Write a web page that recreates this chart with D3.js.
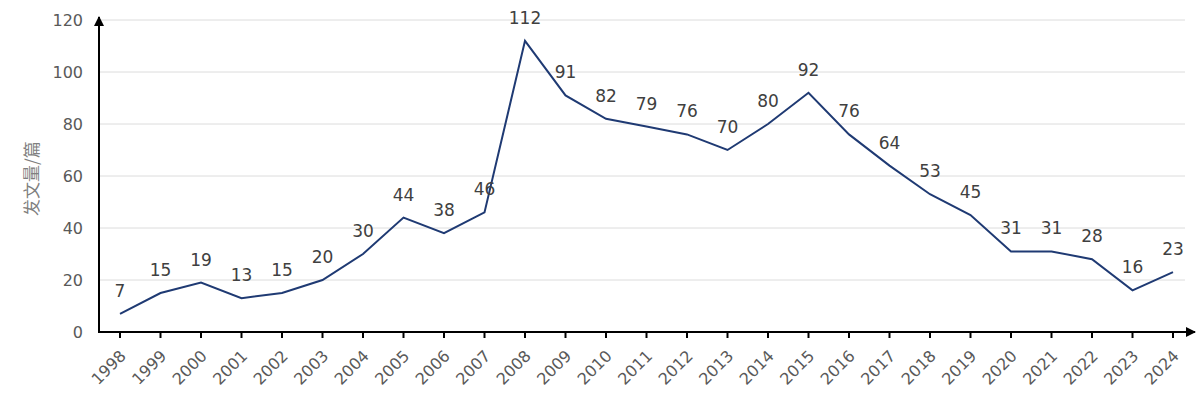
<!DOCTYPE html>
<html>
<head>
<meta charset="utf-8">
<script src="https://cdn.jsdelivr.net/npm/d3@7"></script>
<style>
  body { margin: 0; background: #fff; }
  svg { display: block; font-family: "DejaVu Sans", Verdana, sans-serif; }
</style>
</head>
<body>
<div class="chart"></div>
<script>
const years = ['1998', '1999', '2000', '2001', '2002', '2003', '2004', '2005', '2006', '2007', '2008',
  '2009', '2010', '2011', '2012', '2013', '2014', '2015', '2016', '2017', '2018', '2019', '2020',
  '2021', '2022', '2023', '2024'];
const counts = [7, 15, 19, 13, 15, 20, 30, 44, 38, 46, 112, 91, 82, 79, 76, 70, 80, 92, 76, 64, 53,
  45, 31, 31, 28, 16, 23];
const yTicks = [0, 20, 40, 60, 80, 100, 120];

const width = 1200;
const height = 393;
const margin = { left: 99, top: 20, bottom: 61 };
const axisEnd = 1195;

const color = {
  line: '#1f3a73',
  grid: '#dcdcdc',
  axis: '#000',
  tick: '#595959',
  label: '#404040',
};

const svg = d3.select('.chart')
  .append('svg')
    .attr('width', width)
    .attr('height', height);

const x = d3.scalePoint()
  .domain(years)
  .range([120, 1173]);

const y = d3.scaleLinear()
  .domain([0, 120])
  .range([height - margin.bottom, margin.top]);

svg.append('defs').append('marker')
  .attr('id', 'arrow')
  .attr('viewBox', [0, 0, 10, 10])
  .attr('refX', 9)
  .attr('refY', 5)
  .attr('markerWidth', 10)
  .attr('markerHeight', 10)
  .attr('markerUnits', 'userSpaceOnUse')
  .attr('orient', 'auto')
  .append('path')
    .attr('d', 'M0,0L10,5L0,10Z')
    .attr('fill', color.axis);

// gridlines
svg.append('g')
  .selectAll('line')
  .data(yTicks.filter(d => d > 0))
  .join('line')
    .attr('x1', margin.left)
    .attr('x2', 1185)
    .attr('y1', d => y(d))
    .attr('y2', d => y(d))
    .attr('stroke', color.grid)
    .attr('stroke-width', 1);

// y tick labels
svg.append('g')
  .selectAll('text')
  .data(yTicks)
  .join('text')
    .attr('x', 83)
    .attr('y', d => y(d))
    .attr('dy', '0.35em')
    .attr('text-anchor', 'end')
    .attr('font-size', 16)
    .attr('fill', color.tick)
    .text(d => d);

// y axis title
svg.append('text')
  .attr('transform', `translate(32, ${y(59)}) rotate(-90)`)
  .attr('text-anchor', 'middle')
  .attr('dy', '0.35em')
  .attr('font-family', '"Noto Sans CJK SC", sans-serif')
  .attr('font-size', 17)
  .attr('fill', '#7f7f7f')
  .text('发文量/篇');

// axes
svg.append('line')
  .attr('x1', margin.left)
  .attr('x2', margin.left)
  .attr('y1', y(0) + 1)
  .attr('y2', 17)
  .attr('stroke', color.axis)
  .attr('stroke-width', 2)
  .attr('marker-end', 'url(#arrow)');

svg.append('line')
  .attr('x1', margin.left - 1)
  .attr('x2', axisEnd)
  .attr('y1', y(0))
  .attr('y2', y(0))
  .attr('stroke', color.axis)
  .attr('stroke-width', 2)
  .attr('marker-end', 'url(#arrow)');

// x ticks
const xTick = svg.append('g')
  .selectAll('g')
  .data(years)
  .join('g')
    .attr('transform', d => `translate(${x(d)}, ${y(0)})`);

xTick.append('line')
  .attr('y1', 0)
  .attr('y2', 6)
  .attr('stroke', color.axis)
  .attr('stroke-width', 2);

xTick.append('text')
  .attr('transform', 'translate(3, 21) rotate(-45)')
  .attr('text-anchor', 'end')
  .attr('dy', '0.35em')
  .attr('font-size', 16)
  .attr('fill', color.tick)
  .text(d => d);

// line
svg.append('path')
  .datum(counts)
  .attr('d', d3.line()
    .x((d, i) => x(years[i]))
    .y(d => y(d)))
  .attr('fill', 'none')
  .attr('stroke', color.line)
  .attr('stroke-width', 2);

// data labels
svg.append('g')
  .selectAll('text')
  .data(counts)
  .join('text')
    .attr('x', (d, i) => x(years[i]))
    .attr('y', d => y(d) - 17)
    .attr('text-anchor', 'middle')
    .attr('font-size', 17)
    .attr('fill', color.label)
    .text(d => d);
</script>
</body>
</html>
